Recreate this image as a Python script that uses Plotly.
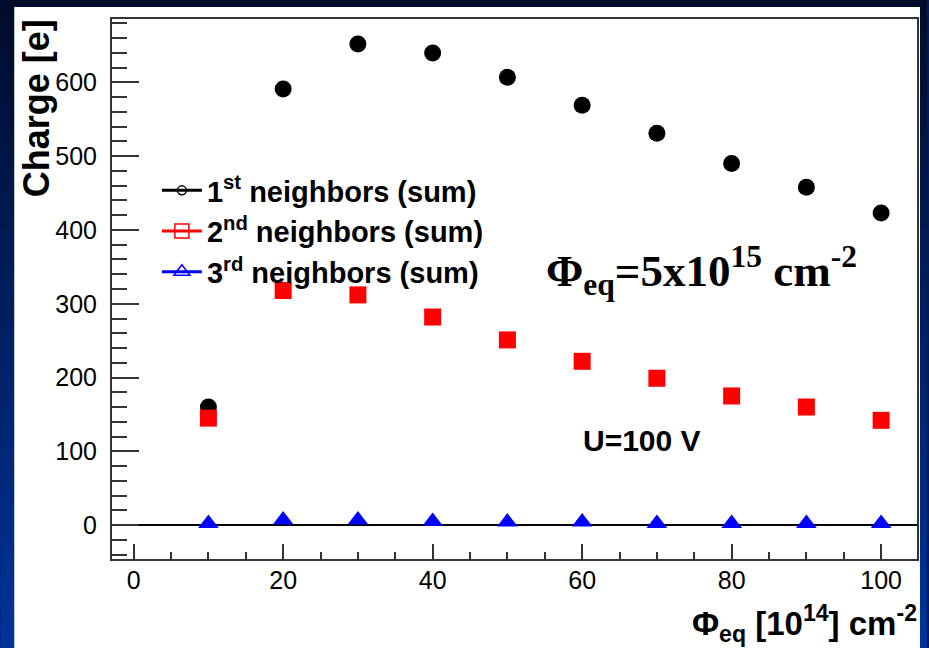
import plotly.graph_objects as go

# Fluence points [10^14 cm^-2]
fluence = [10, 20, 30, 40, 50, 60, 70, 80, 90, 100]

# Summed charge collected on neighbouring strips [e]
first_neighbors = [160, 591, 652, 640, 607, 569, 531, 490, 458, 423]
second_neighbors = [145, 318, 312, 282, 251, 222, 199, 175, 160, 142]
third_neighbors = [2, 7, 7, 5, 4, 4, 2, 2, 2, 2]

legend_labels = [
    "1<sup>st</sup> neighbors (sum)",
    "2<sup>nd</sup> neighbors (sum)",
    "3<sup>rd</sup> neighbors (sum)",
]

y_ticks = [0, 100, 200, 300, 400, 500, 600]
x_ticks = [0, 20, 40, 60, 80, 100]

W, H = 929, 648
L, R, T, B = 112, 919, 19, 559


def px_x(p):
    return (p - L) / (R - L)


def px_y(p):
    return (B - p) / (B - T)


SANS = "Liberation Sans"
SERIF = "Liberation Serif"

fig = go.Figure()

# data markers (filled, no connecting line)
fig.add_trace(go.Scatter(x=fluence, y=first_neighbors, mode="markers",
                         marker=dict(symbol="circle", size=17, color="black"),
                         showlegend=False))
fig.add_trace(go.Scatter(x=fluence, y=second_neighbors, mode="markers",
                         marker=dict(symbol="square", size=17, color="#ff0000"),
                         showlegend=False))
fig.add_trace(go.Scatter(x=fluence, y=third_neighbors, mode="markers",
                         marker=dict(symbol="triangle-up", size=18, color="#0000ff"),
                         showlegend=False))

# legend entries: line with open marker
legend_styles = [
    ("black", "circle-open", 9),
    ("#ff0000", "square-open", 14),
    ("#0000ff", "triangle-up-open", 14),
]
for label, (col, sym, sz) in zip(legend_labels, legend_styles):
    fig.add_trace(go.Scatter(x=[None], y=[None], mode="lines+markers", name=label,
                             line=dict(color=col, width=3),
                             marker=dict(symbol=sym, size=sz, color=col,
                                         line=dict(color=col, width=1.5))))

# page background: dark-to-blue vertical gradient and a white panel
shapes = []
n_bands = 80
top_rgb = (0, 12, 42)
bot_rgb = (0, 52, 155)
for i in range(n_bands):
    f = i / (n_bands - 1)
    r = int(top_rgb[0] + (bot_rgb[0] - top_rgb[0]) * f)
    g = int(top_rgb[1] + (bot_rgb[1] - top_rgb[1]) * f)
    b = int(top_rgb[2] + (bot_rgb[2] - top_rgb[2]) * f)
    y0 = H * i / n_bands
    y1 = H * (i + 1) / n_bands + 1
    shapes.append(dict(type="rect", xref="paper", yref="paper", layer="below",
                       x0=px_x(0), x1=px_x(W), y0=px_y(y1), y1=px_y(y0),
                       fillcolor=f"rgb({r},{g},{b})", line=dict(width=0)))
shapes.append(dict(type="rect", xref="paper", yref="paper", layer="below",
                   x0=px_x(14), x1=px_x(922), y0=px_y(H + 2), y1=px_y(7),
                   fillcolor="white", line=dict(width=0)))

annotations = [
    dict(text="Charge [e]", xref="paper", yref="paper", x=px_x(37), y=px_y(17),
         xanchor="center", yanchor="top", textangle=-90, showarrow=False,
         font=dict(family=SANS, size=36, color="black", weight="bold")),
    dict(text="Φ<sub>eq</sub> [10<sup>14</sup>] cm<sup>-2</sup>", xref="paper", yref="paper",
         x=px_x(921), y=px_y(649), xanchor="right", yanchor="bottom", showarrow=False,
         font=dict(family=SANS, size=33, color="black", weight="bold")),
    dict(text="Φ<sub>eq</sub>=5x10<sup>15</sup> cm<sup>-2</sup>", xref="paper", yref="paper",
         x=px_x(545), y=px_y(270), xanchor="left", yanchor="middle", showarrow=False,
         font=dict(family=SERIF, size=45, color="black", weight="bold")),
    dict(text="U=100 V", xref="paper", yref="paper", x=px_x(643), y=px_y(440),
         xanchor="center", yanchor="middle", showarrow=False,
         font=dict(family=SANS, size=30, color="black", weight="bold")),
]

axis_color = "#333333"

fig.update_layout(
    width=W, height=H,
    margin=dict(l=L, r=W - R, t=T, b=H - B, pad=0),
    paper_bgcolor="#001a55",
    plot_bgcolor="white",
    shapes=shapes,
    annotations=annotations,
    showlegend=True,
    legend=dict(x=px_x(157), y=px_y(165), xanchor="left", yanchor="top",
                bgcolor="rgba(0,0,0,0)", borderwidth=0, tracegroupgap=0,
                itemwidth=40,
                font=dict(family=SANS, size=29, color="black", weight="bold")),
    xaxis=dict(range=[-2.9, 104.8], tickvals=x_ticks, ticks="inside", ticklen=15,
               tickwidth=2, tickcolor=axis_color, showgrid=False, zeroline=False,
               showline=True, linecolor=axis_color, linewidth=2, mirror=True,
               ticklabelstandoff=-2,
               tickfont=dict(family=SANS, size=25, color="black"),
               minor=dict(dtick=5, tick0=0, ticks="inside", ticklen=7, tickwidth=2,
                          tickcolor=axis_color, showgrid=False)),
    yaxis=dict(range=[-46, 686], tickvals=y_ticks, ticks="inside", ticklen=27,
               tickwidth=2, tickcolor=axis_color, showgrid=False,
               zeroline=True, zerolinecolor="black", zerolinewidth=2,
               showline=True, linecolor=axis_color, linewidth=2, mirror=True,
               ticklabelstandoff=8,
               tickfont=dict(family=SANS, size=25, color="black"),
               minor=dict(dtick=20, tick0=0, ticks="inside", ticklen=15, tickwidth=2,
                          tickcolor=axis_color, showgrid=False)),
)

fig.write_html("out.html")
